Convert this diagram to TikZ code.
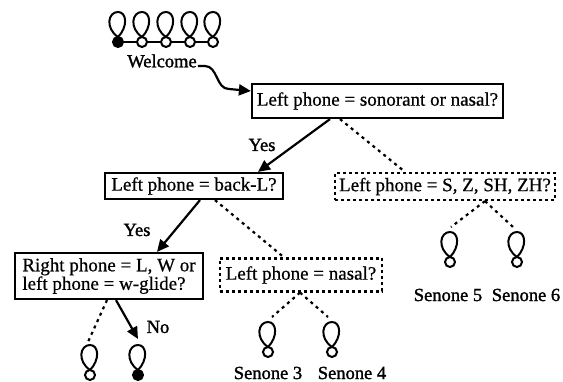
\documentclass[tikz,border=0pt]{standalone}
\usepackage{fontspec}
\setmainfont{Liberation Serif}
\newfontfamily\boxfont{Liberation Serif}[FakeBold=0.6]
\newfontfamily\lblfont{Liberation Serif}[FakeBold=1.5]
\usetikzlibrary{arrows.meta,calc}
\begin{document}
\begin{tikzpicture}[x=1pt,y=-1pt,
  font=\boxfont\fontsize{19}{16}\selectfont,
  box/.style={draw, line width=2.2pt, inner sep=0pt, align=center},
  dbox/.style={box, dash pattern=on 3pt off 3pt},
  arr/.style={line width=2.2pt, -{Triangle[length=12pt,width=11pt]}},
  dotl/.style={line width=2.2pt, dash pattern=on 3pt off 4pt},
  lbl/.style={inner sep=0pt, font=\lblfont\fontsize{18.5}{20}\selectfont},
  hmm/.pic={
    \draw[line width=2pt] (0,-5) .. controls (-13,-14) and (-10,-30) .. (0,-30) .. controls (9,-30) and (10,-15) .. (0,-5);
    \node[circle, draw, line width=2pt, fill=#1, minimum size=10pt, inner sep=0pt] (-c) at (0,0) {};
    \coordinate (-t) at (0,-35);
  }]
\useasboundingbox (0,0) rectangle (563,382);

% welcome chain
\pic (w1) at (118,42) {hmm=black};
\pic (w2) at (142,42) {hmm=white};
\pic (w3) at (166,42) {hmm=white};
\pic (w4) at (190,42) {hmm=white};
\pic (w5) at (213,42) {hmm=white};
\draw[line width=2pt] (w1-c) -- (w2-c);
\draw[line width=2pt] (w2-c) -- (w3-c);
\draw[line width=2pt] (w3-c) -- (w4-c);
\draw[line width=2pt] (w4-c) -- (w5-c);
\node[lbl] (wel) at (162,61) {Welcome};

% boxes
\node[box, minimum width=251pt, minimum height=34pt] (b1) at (377.5,101) {Left phone = sonorant or nasal?};
\node[box, minimum width=178pt, minimum height=26pt] (b2) at (194,186) {Left phone = back-L?};
\node[dbox, minimum width=220pt, minimum height=27pt] (b3) at (445,186.5) {Left phone = S, Z, SH, ZH?};
\node[box, align=left, minimum width=188pt, minimum height=46pt] (b4) at (109,276) {Right phone = L, W or\\left phone = w-glide?};
\node[dbox, minimum width=162pt, minimum height=33pt] (b5) at (301,275) {Left phone = nasal?};

% welcome arrow
\draw[arr] ($(wel.east)+(1,5)$) -- ++(7,0) to[out=0,in=180] ++(24,23) -- ($(b1.west)+(0,-10)$);

% leaf HMMs
\pic (hl) at (90,375) {hmm=white};
\pic (hr) at (138,375) {hmm=black};
\pic (s3) at (268,352) {hmm=white};
\pic (s4) at (332,352) {hmm=white};
\pic (s5) at (450,262) {hmm=white};
\pic (s6) at (517,262) {hmm=white};

\node[lbl] (l3) at (268,373) {Senone 3};
\node[lbl] (l4) at (352,373) {Senone 4};
\node[lbl] (l5) at (448,295) {Senone 5};
\node[lbl] (l6) at (526,295) {Senone 6};

% connectors
\draw[arr] (330,0 |- b1.south) -- (258,0 |- b2.north);
\node[lbl] (y1) at (262,145) {Yes};
\draw[dotl] (340,0 |- b1.south) -- (405,0 |- b3.north);

\draw[arr] (200,0 |- b2.south) -- (157,0 |- b4.north);
\node[lbl] (y2) at (137,230) {Yes};
\draw[dotl] (215,0 |- b2.south) -- (284,0 |- b5.north);

\draw[dotl] (107,0 |- b4.south) -- ($(hl-t)+(-2,2)$);
\draw[arr] (116,0 |- b4.south) -- ($(hr-t)+(0,-1)$);
\node[lbl] (no) at (158,327) {No};

\draw[dotl] (300,0 |- b5.south) -- ($(s3-t)+(4,0)$);
\draw[dotl] (300,0 |- b5.south) -- ($(s4-t)+(-4,0)$);

\draw[dotl] (485,0 |- b3.south) -- ($(s5-t)+(1,0)$);
\draw[dotl] (485,0 |- b3.south) -- ($(s6-t)+(-4,0)$);
\end{tikzpicture}
\end{document}
